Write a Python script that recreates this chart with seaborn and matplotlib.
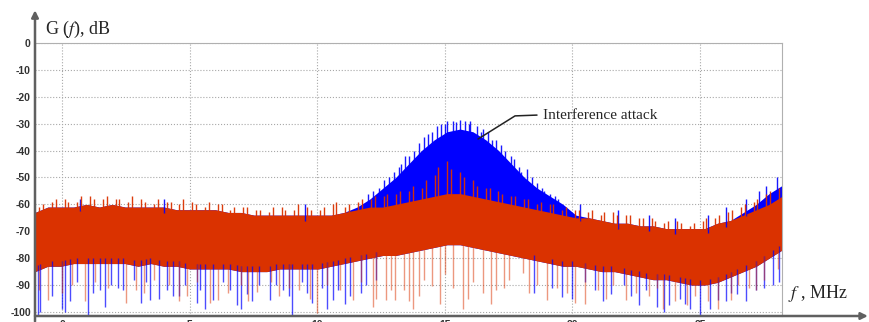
import numpy as np
import pandas as pd
import matplotlib
matplotlib.use("Agg")
import matplotlib.pyplot as plt
import seaborn as sns

# frequency grid, MHz (covers the whole visible axis)
f_MHz = np.linspace(-1.06, 28.21, 59)

# spectrum without attack (red): top / bottom of the dense band, dB
red_top = [-63, -61, -61, -61, -60, -61, -60, -61, -61, -61,
           -61, -62, -62, -62, -62, -63, -63, -64, -64, -64,
           -64, -64, -64, -64, -63, -62, -61, -61, -60, -59,
           -58, -57, -56, -56, -57, -58, -59, -60, -61, -62,
           -63, -64, -65, -65, -66, -67, -67, -68, -68, -69,
           -69, -69, -69, -67, -66, -64, -62, -60, -57]
red_lo = [-85, -83, -83, -82, -82, -82, -82, -82, -83, -82,
          -83, -83, -84, -84, -84, -84, -85, -85, -85, -84,
          -84, -84, -84, -83, -82, -81, -80, -79, -79, -78,
          -77, -76, -75, -75, -76, -77, -78, -79, -80, -81,
          -82, -83, -83, -84, -85, -85, -86, -87, -88, -88,
          -89, -90, -90, -89, -87, -85, -83, -80, -77]

# spectrum with interference attack (blue)
blue_top = [-63, -61, -61, -61, -60, -61, -60, -61, -61, -61,
            -61, -62, -62, -62, -62, -63, -63, -64, -64, -64,
            -64, -64, -64, -64, -63, -61, -58, -54, -50, -45,
            -40, -36, -33, -32, -33, -36, -40, -45, -50, -54,
            -57, -60, -64, -65, -66, -67, -67, -68, -68, -69,
            -69, -69, -69, -67, -66, -63, -60, -56, -53]
blue_lo = red_lo

# isolated spikes (frequency, tip level)
blue_down_f = [-0.95, -0.86, 0.0, 0.1, 0.6, 1.0, 1.5, 1.9, 2.4, 2.8, 3.1, 3.45,
               3.8, 4.1, 4.35, 4.6, 5.3, 5.4, 5.9, 6.3, 6.85, 7.25, 7.7, 8.15,
               8.65, 9.0, 9.4, 9.8, 10.2, 10.6, 11.1, 11.7, 12.3, 18.5, 19.6,
               20.5, 20.9, 21.5, 22.0, 22.6, 23.3, 23.8, 24.2, 24.6, 25.0,
               25.7, 26.0, 26.45, 27.2, 27.85,
               -0.4, 0.3, 1.2, 1.7, 2.2, 3.3, 4.8, 5.6, 6.6, 7.0, 7.45, 8.4,
               8.9, 9.6, 10.4, 10.8, 11.3, 11.9, 19.2, 20.0, 21.2, 22.3, 22.9,
               23.6, 24.4, 25.4, 26.2, 26.8, 27.5, 28.1]
blue_down_g = [-101.5, -100, -99, -100, -89, -101.5, -92, -90, -92, -88, -96.5, -95.5,
               -95, -92, -94, -94, -96.5, -92, -95.5, -89, -97.5, -93.5, -90, -95.5,
               -92, -101, -89, -96.5, -91, -95.5, -97, -93, -88, -93, -94.5,
               -89, -92, -93.5, -90, -97.5, -98, -97.5, -95, -99, -101.5,
               -95.5, -96, -93.5, -92, -90,
               -94, -96, -93, -98, -91, -89, -90, -99, -92, -99, -96, -90,
               -94, -93, -99, -92, -94, -90, -91, -95, -96, -94, -92,
               -100, -97, -99, -93, -96, -91, -89]
red_down_f = [-0.55, 0.4, 1.3, 2.5, 2.9, 3.6, 4.9, 5.8, 6.1, 7.0, 7.65, 8.9,
              10.0, 10.9, 11.4, 12.2, 12.3, 12.7, 13.05, 13.4, 13.75, 14.2,
              14.5, 15.0, 15.7, 16.1, 16.5, 17.0, 17.5, 18.05, 18.6, 19.0,
              20.1, 21.0, 21.6, 22.1, 23.0, 23.55, 24.5, 25.3, 26.2, 26.9,
              27.5, 28.05,
              -0.9, 0.0, 0.9, 1.8, 3.2, 4.2, 4.6, 5.3, 6.5, 7.3, 8.2, 8.5,
              9.3, 9.7, 10.4, 11.7, 12.9, 13.6, 14.0, 14.8, 15.3, 15.9, 16.8,
              17.3, 18.3, 19.4, 19.8, 20.5, 21.3, 22.5, 23.3, 24.0, 24.8,
              25.7, 26.5, 27.2]
red_down_g = [-95.5, -90, -89, -96.5, -92, -88, -94, -96.5, -95.5, -90, -92.5, -91,
              -100.5, -92, -95.5, -98, -95, -95.5, -95.5, -92, -99, -88,
              -90.5, -86, -99, -89, -93, -92, -88, -85.5, -90, -95.5,
              -96.5, -92, -90, -95.5, -94, -99, -97.5, -96, -95.5, -91,
              -88, -84,
              -92, -93, -96, -91, -93, -90, -96, -89, -93, -96, -89, -94,
              -92, -95, -90, -89, -92, -96, -94, -97, -91, -95, -97,
              -91, -93, -91, -93, -97, -95, -93, -91, -96, -94,
              -99, -90, -92]
red_up_f = [-0.75, -0.25, 0.25, 0.75, 1.25, 1.75, 2.25, 2.75, 3.25, 3.75,
            4.25, 4.75, 5.25, 5.75, 6.25, 6.75, 7.25, 7.75, 8.25, 8.75,
            9.25, 9.75, 10.25, 10.75, 11.25, 11.75, 12.25, 12.75, 13.25, 13.75,
            14.25, 14.75, 15.25, 15.75, 16.25, 16.75, 17.25, 17.75, 18.25, 18.75,
            19.25, 19.75, 20.25, 20.75, 21.25, 21.75, 22.25, 22.75, 23.25, 23.75,
            24.25, 24.75, 25.25, 25.75, 26.25, 26.75, 27.25, 27.75,
            -0.9, -0.4, 0.1, 0.6, 1.1, 1.6, 2.1, 2.6, 3.1, 3.6,
            4.1, 4.6, 5.1, 5.6, 6.1, 6.6, 7.1, 7.6, 8.1, 8.6,
            9.1, 9.6, 10.1, 10.6, 11.1, 11.6, 12.1, 12.6, 13.1, 13.6,
            14.1, 14.6, 15.1, 15.6, 16.1, 16.6, 17.1, 17.6, 18.1, 18.6,
            19.1, 19.6, 20.1, 20.6, 21.1, 21.6, 22.1, 22.6, 23.1, 23.6,
            24.1, 24.6, 25.1, 25.6, 26.1, 26.6, 27.1, 27.6, 28.1]
red_up_g = [-60, -58, -59, -57, -58, -57, -58, -57, -59, -58,
            -59, -58, -60, -59, -60, -61, -61, -62, -61, -62,
            -60, -62, -61, -59, -60, -58, -57, -56, -55, -53,
            -51, -46, -47, -50, -53, -54, -56, -57, -58, -59,
            -60, -61, -62, -62, -63, -64, -64, -65, -66, -66,
            -67, -67, -65, -64, -62, -60, -58, -55,
            -61, -59, -58, -59, -57, -58, -58, -59, -58, -60,
            -59, -60, -59, -61, -60, -62, -61, -62, -63, -61,
            -62, -61, -62, -60, -61, -59, -58, -57, -56, -55,
            -54, -49, -44, -48, -51, -54, -55, -57, -58, -60,
            -60, -62, -62, -63, -64, -63, -64, -65, -65, -67,
            -66, -68, -66, -65, -63, -61, -59, -56, -54]
blue_up_f = [0.7, 4.0, 9.5, 12.2, 12.8, 13.3, 13.6, 14.2, 14.7, 15.1, 15.6,
             16.0, 16.5, 17.0, 17.6, 18.2, 18.8, 19.3, 20.3, 21.8, 23.0,
             24.0, 25.3, 26.0, 26.8, 27.3, 27.6, 28.0,
             12.0, 12.4, 12.6, 13.0, 13.2, 13.45, 13.8, 14.0, 14.35, 14.5,
             14.85, 15.0, 15.3, 15.45, 15.8, 15.95, 16.25, 16.4, 16.7, 16.85,
             17.2, 17.35, 17.7, 17.9, 18.0, 18.4, 18.6, 18.9, 19.1, 19.45]
blue_up_g = [-58, -58, -60, -55, -50, -45, -42, -35, -31, -29, -28.5,
             -29, -32, -36, -42, -47, -54, -57, -60, -62, -64,
             -65, -64, -61, -58, -55, -53, -50,
             -56, -54, -51, -48, -46, -42, -40, -37, -34, -33,
             -30, -30, -29, -29.5, -29, -30, -31, -33, -33, -36,
             -38, -40, -43, -46, -48, -50, -52, -55, -56, -58]

RED = "#da3200"
BLUE = "#0000ff"

sns.set_style("whitegrid", {"grid.linestyle": ":", "grid.color": "#a8a8a8"})
plt.rcParams['font.family'] = ['Liberation Sans', 'DejaVu Sans']
plt.rcParams['mathtext.fontset'] = 'stix'
plt.rcParams['axes.unicode_minus'] = False

fig = plt.figure(figsize=(8.69, 3.22), dpi=100)
ax = fig.add_axes([35 / 869, 6 / 322, 747 / 869, 273 / 322])


def band(top, lo, color):
    df = pd.DataFrame({"f": np.concatenate([f_MHz, f_MHz]),
                       "G": np.concatenate([top, lo])})
    sns.lineplot(data=df, x="f", y="G", estimator="mean", errorbar=("pi", 100),
                 color=color, linewidth=0, err_kws={"alpha": 1, "linewidth": 0},
                 ax=ax)


def spikes(fs, gs, edge, color, alpha, up=False):
    fs = np.asarray(fs)
    base = np.interp(fs, f_MHz, edge)
    if up:
        ax.vlines(fs, base - 2, gs, color=color, alpha=alpha, lw=1.0)
    else:
        ax.vlines(fs, gs, base + 2, color=color, alpha=alpha, lw=1.0)


band(blue_top, blue_lo, BLUE)
spikes(blue_down_f, blue_down_g, blue_lo, BLUE, 0.7)
spikes(blue_up_f, blue_up_g, blue_top, BLUE, 0.9, up=True)
band(red_top, red_lo, RED)
spikes(red_down_f, red_down_g, red_lo, RED, 0.5)
spikes(red_up_f, red_up_g, red_top, RED, 0.95, up=True)

ax.set_xlim(-1.06, 28.21)
ax.set_ylim(-101.5, 0)
ax.set_xticks([0, 5, 10, 15, 20, 25])
ax.set_yticks(np.arange(0, -101, -10))
ax.set_xlabel("")
ax.set_ylabel("")
ax.tick_params(axis="both", direction="in", length=3, color="#666",
               labelsize=7.5, labelcolor="#333", pad=3)
for lab in ax.get_xticklabels() + ax.get_yticklabels():
    lab.set_fontweight("bold")
ax.grid(True, lw=0.8)

for s in ["top", "right"]:
    ax.spines[s].set_color("#b0b0b0")
    ax.spines[s].set_linewidth(0.8)
ax.spines["left"].set_visible(False)
ax.spines["bottom"].set_visible(False)

# arrowed axes
arrow = dict(arrowstyle="-|>", color="#606060", lw=1.8, mutation_scale=10,
             shrinkA=0, shrinkB=0)
ax.annotate("", xy=(0, 1.12), xycoords="axes fraction", xytext=(0, -0.02),
            arrowprops=arrow)
ax.annotate("", xy=(1.115, 0), xycoords="axes fraction", xytext=(0, 0),
            arrowprops=arrow)

serif = ['Liberation Serif', 'DejaVu Serif']
ax.text(0.013, 1.01, r"G ($f$), dB", transform=ax.transAxes, fontsize=13,
        family=serif, va="bottom", ha="left")
ax.text(1.008, 0.045, r"$f$ , MHz", transform=ax.transAxes, fontsize=13,
        family=serif, va="bottom", ha="left", clip_on=False)

# leader line for the annotation
ax.plot([16.30, 17.75, 18.61], [-35.7, -27.1, -26.8], color="#222", lw=1.1)
ax.text(18.85, -26.8, "Interference attack", fontsize=11, family=serif,
        va="center", ha="left")

fig.savefig("out.png", dpi=100)
